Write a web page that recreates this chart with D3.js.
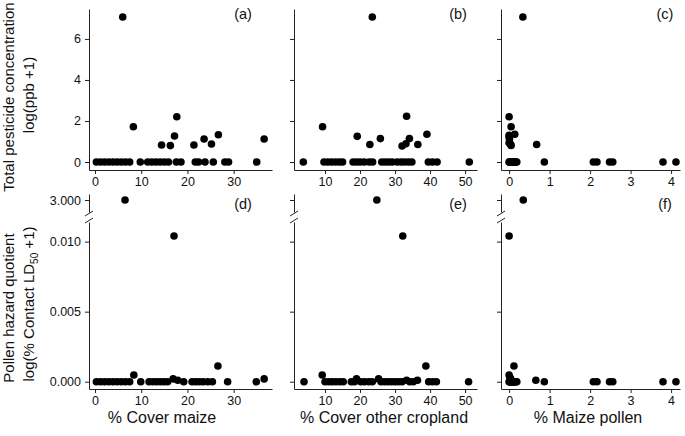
<!DOCTYPE html>
<html><head><meta charset="utf-8">
<script src="https://cdn.jsdelivr.net/npm/d3@7"></script>
<style>body{margin:0;background:#fff}svg{display:block}text{font-family:"Liberation Sans",Arial,sans-serif}</style>
</head><body><svg id="c" width="685" height="436"></svg>
<script>
// ---------- data ----------
const maizeTicks = [0, 10, 20, 30];
const otherTicks = [10, 20, 30, 40, 50];
const pollenTicks = [0, 1, 2, 3, 4];
const pestTicks = [0, 2, 4, 6];
const hqTicks = [0, 0.005, 0.010];
const hqBreakTicks = [3];
const panelLabels = ["(a)", "(b)", "(c)", "(d)", "(e)", "(f)"];
const xTitles = ["% Cover maize", "% Cover other cropland", "% Maize pollen"];

// (a) % cover maize vs pesticide
const aMaize = [0.3,1.2,2.1,3.0,3.9,4.8,5.7,6.6,7.5,9.8,11.4,12.3,13.2,14.1,15.0,15.9,17.6,18.6,21.7,22.4,23.8,25.6,28.1,28.9,35.0,
                6.0,8.3,17.7,17.2,14.4,16.3,21.4,23.6,25.2,26.7,36.6];
const aPest  = [0,0,0,0,0,0,0,0,0,0,0,0,0,0,0,0,0,0,0,0,0,0,0,0,0,
                7.07,1.72,2.21,1.27,0.83,0.80,0.83,1.12,0.88,1.33,1.12];
// (b) % cover other cropland vs pesticide
const bOther = [3.8,9.7,10.8,11.9,13.0,14.1,15.0,18.0,19.0,20.0,21.2,22.6,23.6,26.2,27.2,28.2,29.2,30.6,31.7,32.7,33.8,34.8,39.5,40.7,42.0,51.2,
                23.5,9.3,33.3,19.2,22.8,25.8,32.0,33.1,34.1,36.5,39.1];
const bPest  = [0,0,0,0,0,0,0,0,0,0,0,0,0,0,0,0,0,0,0,0,0,0,0,0,0,0,
                7.07,1.72,2.23,1.25,0.85,1.14,0.78,0.89,1.14,0.85,1.35];
// (c) % maize pollen vs pesticide
const cPollen = [0.00,0.01,0.02,0.03,0.04,0.05,0.06,0.07,0.08,0.09,0.10,0.11,0.12,0.13,0.14,0.15,0.17,0.19,0.87,2.08,2.17,2.48,2.56,3.80,4.12,
                 0.34,0.00,0.05,0.14,0.00,0.00,0.01,0.00,0.03,0.05,0.68];
const cPest   = [0,0,0,0,0,0,0,0,0,0,0,0,0,0,0,0,0,0,0,0,0,0,0,0,0,
                 7.07,2.21,1.72,1.35,1.30,1.22,1.12,0.94,0.88,0.81,0.85];
// (d) % cover maize vs hazard quotient
const dMaize = [0.3,1.2,2.1,3.0,3.9,4.8,5.7,6.6,7.5,8.4,9.9,11.7,12.5,13.3,14.1,14.9,15.7,16.9,17.9,19.2,21.0,21.8,22.6,23.4,24.4,25.4,26.6,28.7,34.9,36.6,17.1,6.5];
const dHQ    = [0,0,0,0,0,0,0,0,0,0.00048,0,0,0,0,0,0,0,0.0002,0.0001,0,0,0,0,0,0,0,0.00112,0,0,0.0002,0.0104,3.0];
// (e) % cover other cropland vs hazard quotient
const eOther = [4.0,10.0,11.0,12.0,13.1,14.2,15.2,17.5,18.4,20.2,21.3,22.5,23.5,26.0,27.0,28.0,29.0,30.0,31.0,32.0,34.2,35.2,39.6,40.7,41.8,51.0,
                9.2,19.0,25.3,33.3,36.4,38.8,32.2,24.8];
const eHQ    = [0,0,0,0,0,0,0,0,0,0,0,0,0,0,0,0,0,0,0,0,0,0,0,0,0,0,
                0.00048,0.0002,0.0002,0.0001,0.0001,0.00112,0.0104,3.0];
// (f) % maize pollen vs hazard quotient
const fPollen = [0.00,0.01,0.02,0.03,0.04,0.05,0.06,0.07,0.08,0.09,0.10,0.11,0.13,0.15,0.17,0.19,0.87,2.08,2.17,2.48,2.56,3.80,4.12,
                 0.00,0.02,0.04,0.12,0.66,0.00,0.35];
const fHQ     = [0,0,0,0,0,0,0,0,0,0,0,0,0,0,0,0,0,0,0,0,0,0,0,
                 0.00048,0.0003,0.0002,0.00112,0.0001,0.0104,3.0];

// ---------- layout ----------
const svg = d3.select("#c");
const cols = [[89, 272], [294, 477], [501, 680]];
const xDomains = [[-1.3, 38.3], [1.14, 53.4], [-0.2, 4.22]];
const xTickSets = [maizeTicks, otherTicks, pollenTicks];
const topX = [[aMaize, aPest], [bOther, bPest], [cPollen, cPest]];
const botX = [[dMaize, dHQ], [eOther, eHQ], [fPollen, fHQ]];
const labX = [243, 458, 665];
const titleX = [162, 384, 588];

const topY = d3.scaleLinear().domain([-0.39, 7.46]).range([170, 9]);
const lowY = d3.scaleLinear().domain([-0.00052, 0.0114]).range([389, 222]);
const upY = d3.scaleLinear().domain([2.994, 3.003]).range([212, 194]);

function styleAxis(g) {
  g.selectAll("path.domain").attr("stroke", "#222").attr("stroke-width", 1);
  g.selectAll(".tick line").attr("stroke", "#222");
  g.selectAll(".tick text").attr("font-size", 12.5).attr("fill", "#111")
    .attr("font-family", '"Liberation Sans",Arial,sans-serif');
}
const R = 3.8;

for (let i = 0; i < 3; i++) {
  const x = d3.scaleLinear().domain(xDomains[i]).range(cols[i]);
  const x0 = cols[i][0];
  // ---- top panel
  svg.append("g").attr("transform", "translate(0,170)")
    .call(d3.axisBottom(x).tickValues(xTickSets[i]).tickSize(4).tickSizeOuter(0).tickPadding(3).tickFormat(d3.format("d")))
    .call(styleAxis);
  svg.append("g").attr("transform", `translate(${x0},0)`)
    .call(d3.axisLeft(topY).tickValues(pestTicks).tickSize(4).tickSizeOuter(0).tickPadding(4)
      .tickFormat(i === 0 ? d3.format("d") : () => ""))
    .call(styleAxis);
  const [tx, ty] = topX[i];
  svg.append("g").selectAll("circle").data(tx.map((v, k) => [v, ty[k]])).join("circle")
    .attr("cx", d => x(d[0])).attr("cy", d => topY(d[1])).attr("r", R).attr("fill", "#000");
  svg.append("text").attr("x", labX[i]).attr("y", 19).attr("text-anchor", "middle")
    .attr("font-size", 14.5).attr("fill", "#111").text(panelLabels[i]);

  // ---- bottom panel
  svg.append("g").attr("transform", "translate(0,389)")
    .call(d3.axisBottom(x).tickValues(xTickSets[i]).tickSize(4).tickSizeOuter(0).tickPadding(3).tickFormat(d3.format("d")))
    .call(styleAxis);
  svg.append("g").attr("transform", `translate(${x0},0)`)
    .call(d3.axisLeft(lowY).tickValues(hqTicks).tickSize(4).tickSizeOuter(0).tickPadding(4)
      .tickFormat(i === 0 ? d3.format(".3f") : () => ""))
    .call(styleAxis);
  svg.append("g").attr("transform", `translate(${x0},0)`)
    .call(d3.axisLeft(upY).tickValues(hqBreakTicks).tickSize(4).tickSizeOuter(0).tickPadding(4)
      .tickFormat(i === 0 ? d3.format(".3f") : () => ""))
    .call(styleAxis);
  // axis break marks
  const brk = svg.append("g").attr("stroke", "#222").attr("stroke-width", 1);
  brk.append("line").attr("x1", x0 - 4).attr("y1", 216).attr("x2", x0 + 4).attr("y2", 211);
  brk.append("line").attr("x1", x0 - 4).attr("y1", 223).attr("x2", x0 + 4).attr("y2", 218);
  const [bx, by] = botX[i];
  svg.append("g").selectAll("circle").data(bx.map((v, k) => [v, by[k]])).join("circle")
    .attr("cx", d => x(d[0])).attr("cy", d => d[1] >= 1 ? upY(d[1]) : lowY(d[1])).attr("r", R).attr("fill", "#000");
  svg.append("text").attr("x", labX[i]).attr("y", 209).attr("text-anchor", "middle")
    .attr("font-size", 14.5).attr("fill", "#111").text(panelLabels[i + 3]);

  // x title
  svg.append("text").attr("x", titleX[i]).attr("y", 423).attr("text-anchor", "middle")
    .attr("font-size", 16).attr("fill", "#111").text(xTitles[i]);
}

// y titles
function yTitle(xp, yp, txt) {
  return svg.append("text").attr("transform", `translate(${xp},${yp}) rotate(-90)`)
    .attr("text-anchor", "middle").attr("font-size", 15).attr("fill", "#111").text(txt);
}
yTitle(14, 97, "Total pesticide concentration");
yTitle(34, 95, "log(ppb +1)");
yTitle(14, 308, "Pollen hazard quotient");
const t = svg.append("text").attr("transform", "translate(34,304) rotate(-90)")
  .attr("text-anchor", "middle").attr("font-size", 15).attr("fill", "#111");
t.append("tspan").text("log(% Contact LD");
t.append("tspan").attr("font-size", 10).attr("dy", 4).text("50");
t.append("tspan").attr("dy", -4).text(" +1)");
</script></body></html>
